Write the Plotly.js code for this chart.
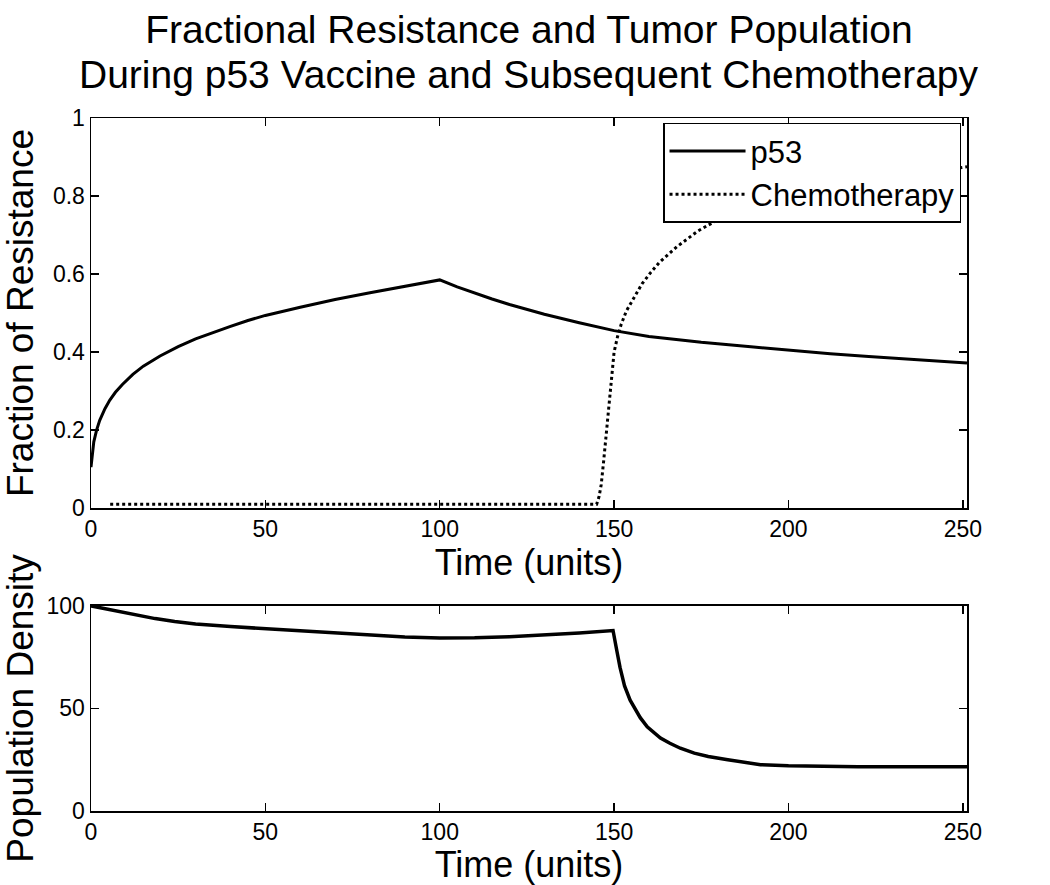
<!DOCTYPE html>
<html>
<head>
<meta charset="utf-8">
<script src="https://cdn.plot.ly/plotly-3.0.1.min.js"></script>
<style>
  html, body { margin: 0; padding: 0; background: #fff; }
  #chart { width: 1050px; height: 885px; }
</style>
</head>
<body>
<div id="chart"></div>
<script>
// ================= Data =================
const p53Time = [0, 0.3, 0.8, 1.6, 2.5, 4, 5.4, 7, 9, 12, 15, 19.8, 25, 30, 35, 40, 45, 50, 60, 70, 80, 90, 100,
                 105, 110, 115, 120, 130, 140, 146.3, 150, 160, 175, 190, 200, 212, 223, 237, 251.2];
const p53Resist = [0.105, 0.135, 0.17, 0.2, 0.225, 0.255, 0.277, 0.297, 0.317, 0.343, 0.364, 0.39, 0.414,
                   0.434, 0.451, 0.466, 0.481, 0.494, 0.515, 0.535, 0.552, 0.569, 0.585,
                   0.567, 0.551, 0.536, 0.522, 0.497, 0.475, 0.463, 0.455, 0.44, 0.425, 0.413, 0.405,
                   0.396, 0.389, 0.38, 0.372];

const chemoTime = [5.5, 50, 100, 145, 145.7, 146.3, 147, 147.5, 148, 148.5, 149, 149.5, 150, 151, 152, 153.5,
                   155.7, 158, 160.6, 163, 165.5, 168, 171, 174, 177.9, 182, 187.4, 193, 200, 215, 230, 251.2];
const chemoResist = [0.01, 0.01, 0.01, 0.01, 0.03, 0.06, 0.12, 0.17, 0.22, 0.27, 0.32, 0.36, 0.4, 0.44, 0.47,
                     0.505, 0.54, 0.575, 0.605, 0.63, 0.65, 0.67, 0.69, 0.71, 0.73, 0.748, 0.764, 0.78, 0.795,
                     0.825, 0.85, 0.875];

const popTime = [0, 5, 10, 14, 18.4, 24, 30, 40, 50, 60, 70, 79, 90, 100, 105, 110, 120, 130, 140, 149.7,
                 150.2, 150.8, 151.7, 153, 154.6, 156, 157.5, 159.5, 161.5, 163.3, 166, 169, 173, 177, 182.6,
                 187, 192, 200, 210, 220, 235, 251.2];
const popDensity = [100, 98.4, 96.6, 95.1, 93.8, 92.4, 91.2, 89.9, 88.8, 87.7, 86.6, 85.7, 84.8, 84.3, 84.2,
                    84.4, 85, 85.8, 86.8, 88, 84, 78, 70, 61, 54, 49.5, 45.5, 41, 38, 35.6, 33, 30.6, 28.2,
                    26.6, 25, 23.8, 22.6, 22, 21.7, 21.6, 21.6, 21.6];

const xTicks = [0, 50, 100, 150, 200, 250];
const resistTicks = [0, 0.2, 0.4, 0.6, 0.8, 1];
const popTicks = [0, 50, 100];

// ================= Chart =================
const font = "Liberation Sans, Arial, sans-serif";

const axisStyle = {
  showline: true, linecolor: "#000", linewidth: 1.5, mirror: "ticks",
  ticks: "inside", ticklen: 8, tickwidth: 1.5, tickcolor: "#000",
  showgrid: false, zeroline: false,
  tickfont: { family: font, size: 23, color: "#000" }
};

const traces = [
  {
    x: p53Time, y: p53Resist, name: "p53", type: "scatter", mode: "lines",
    line: { color: "#000", width: 3 }, xaxis: "x", yaxis: "y"
  },
  {
    x: chemoTime, y: chemoResist, name: "Chemotherapy", type: "scatter", mode: "lines",
    line: { color: "#000", width: 3, dash: "dot" }, xaxis: "x", yaxis: "y"
  },
  {
    x: popTime, y: popDensity, name: "Population", type: "scatter", mode: "lines",
    line: { color: "#000", width: 3.5 }, xaxis: "x2", yaxis: "y2", showlegend: false
  }
];

const layout = {
  width: 1050, height: 885,
  paper_bgcolor: "#fff", plot_bgcolor: "#fff",
  margin: { l: 91, r: 83, t: 118, b: 74 },
  font: { family: font, color: "#000" },
  title: {
    text: "Fractional Resistance and Tumor Population",
    font: { family: font, size: 39, color: "#000" },
    x: 0.5, xanchor: "center", xref: "paper",
    y: 1 - 29 / 885, yanchor: "middle", yref: "container"
  },
  annotations: [{
    text: "During p53 Vaccine and Subsequent Chemotherapy",
    xref: "paper", yref: "paper", x: 0.5, y: (811 - 74) / 693,
    xanchor: "center", yanchor: "middle", showarrow: false,
    font: { family: font, size: 39, color: "#000" }
  }],
  xaxis: Object.assign({}, axisStyle, {
    domain: [0, 1], anchor: "y", range: [0, 251.2],
    tickvals: xTicks,
    title: { text: "Time (units)", font: { family: font, size: 36, color: "#000" }, standoff: 6 }
  }),
  yaxis: Object.assign({}, axisStyle, {
    domain: [0.437, 1], anchor: "x", range: [0, 1],
    tickvals: resistTicks,
    title: { text: "Fraction of Resistance", font: { family: font, size: 37, color: "#000" }, standoff: 10 }
  }),
  xaxis2: Object.assign({}, axisStyle, {
    domain: [0, 1], anchor: "y2", range: [0, 251.2],
    tickvals: xTicks,
    title: { text: "Time (units)", font: { family: font, size: 36, color: "#000" }, standoff: 4 }
  }),
  yaxis2: Object.assign({}, axisStyle, {
    domain: [0, 0.296], anchor: "x2", range: [0, 100],
    tickvals: popTicks,
    title: { text: "Population Density", font: { family: font, size: 37, color: "#000" }, standoff: 10 }
  }),
  showlegend: true,
  legend: {
    x: 0.653, y: 0.993, xanchor: "left", yanchor: "top",
    bgcolor: "#fff", bordercolor: "#000", borderwidth: 1.5,
    font: { family: font, size: 31, color: "#000" },
    itemwidth: 76,
    tracegroupgap: 0
  }
};

Plotly.newPlot("chart", traces, layout, { displayModeBar: false, staticPlot: true });
</script>
</body>
</html>
